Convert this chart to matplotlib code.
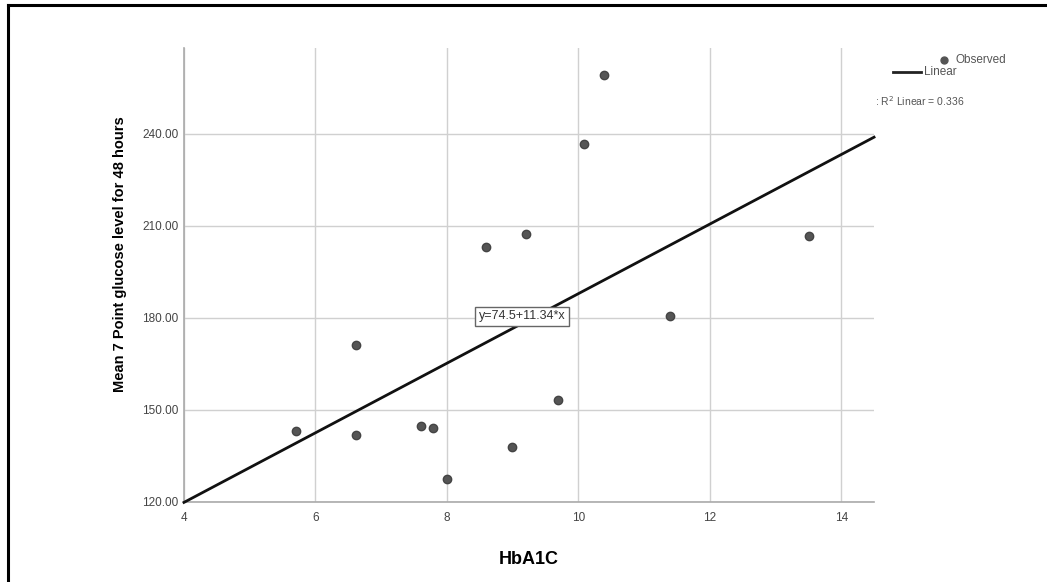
import matplotlib.pyplot as plt
from matplotlib.lines import Line2D
import numpy as np

plt.rcParams['font.family'] = ['Liberation Sans', 'DejaVu Sans']

# data
hba1c = [5.70, 6.62, 6.62, 7.61, 7.79, 8.00, 8.60, 8.99, 9.21, 9.69, 10.09, 10.39, 11.40, 13.51]
glucose = [143.2, 171.2, 141.8, 144.8, 144.1, 127.5, 203.2, 137.9, 207.4, 153.3, 236.7, 259.2, 180.7, 206.7]
intercept = 74.5
slope = 11.34
r2 = 0.336
xticks = [4, 6, 8, 10, 12, 14]
yticks = [120, 150, 180, 210, 240]

fig = plt.figure(figsize=(10.47, 5.82), dpi=100)
ax = fig.add_axes([0.1757, 0.1375, 0.6591, 0.78])

ax.set_xlim(4, 14.5)
ax.set_ylim(120, 268)
ax.set_xticks(xticks)
ax.set_yticks(yticks)
ax.set_yticklabels(['%.2f' % v for v in yticks])
ax.grid(True, color='#d0d0d0', linewidth=1)
ax.set_axisbelow(True)
ax.tick_params(length=0, labelsize=8.5, colors='#444444')
ax.tick_params(axis='x', pad=7)
ax.tick_params(axis='y', pad=4)
for s in ['top', 'right']:
    ax.spines[s].set_visible(False)
for s in ['left', 'bottom']:
    ax.spines[s].set_color('#aaaaaa')
    ax.spines[s].set_linewidth(1.2)

# fit line
xs = np.array([4, 14.5])
ax.plot(xs, intercept + slope * xs, color='#111111', linewidth=2, zorder=3, clip_on=False)

# observed points
ax.plot(hba1c, glucose, 'o', color='#555555', markeredgecolor='#444444', markersize=6, zorder=4)

ax.text(9.15, 180.5, 'y=74.5+11.34*x', fontsize=9, ha='center', va='center', color='#333333',
        bbox=dict(boxstyle='square,pad=0.3', facecolor='white', edgecolor='#666666', linewidth=1), zorder=5)

ax.set_xlabel('HbA1C', fontsize=13, fontweight='bold', labelpad=20)
ax.set_ylabel('Mean 7 Point glucose level for 48 hours', fontsize=10.5, fontweight='bold')
ax.yaxis.set_label_coords(-0.082, 0.545)

# legend outside on the right
fig.add_artist(Line2D([944 / 1047], [1 - 60 / 582], marker='o', color='#555555', markersize=5,
                      transform=fig.transFigure))
fig.text(956 / 1047, 1 - 60 / 582, 'Observed', fontsize=8.5, color='#555555', va='center')
fig.add_artist(Line2D([893 / 1047, 921 / 1047], [1 - 72 / 582, 1 - 72 / 582], color='#222222',
                      linewidth=2, transform=fig.transFigure))
fig.text(924 / 1047, 1 - 72 / 582, 'Linear', fontsize=8.5, color='#555555', va='center')
fig.text(875 / 1047, 1 - 101 / 582, ': R$^2$ Linear = %.3f' % r2, fontsize=7.5, color='#555555', va='center')

# frame edges
fig.add_artist(Line2D([8 / 1047, 8 / 1047], [0, 1 - 5 / 582], color='black', linewidth=2.2,
                      transform=fig.transFigure))
fig.add_artist(Line2D([8 / 1047, 1], [1 - 5 / 582, 1 - 5 / 582], color='black', linewidth=2.2,
                      transform=fig.transFigure))

fig.savefig('out.png', dpi=100)
